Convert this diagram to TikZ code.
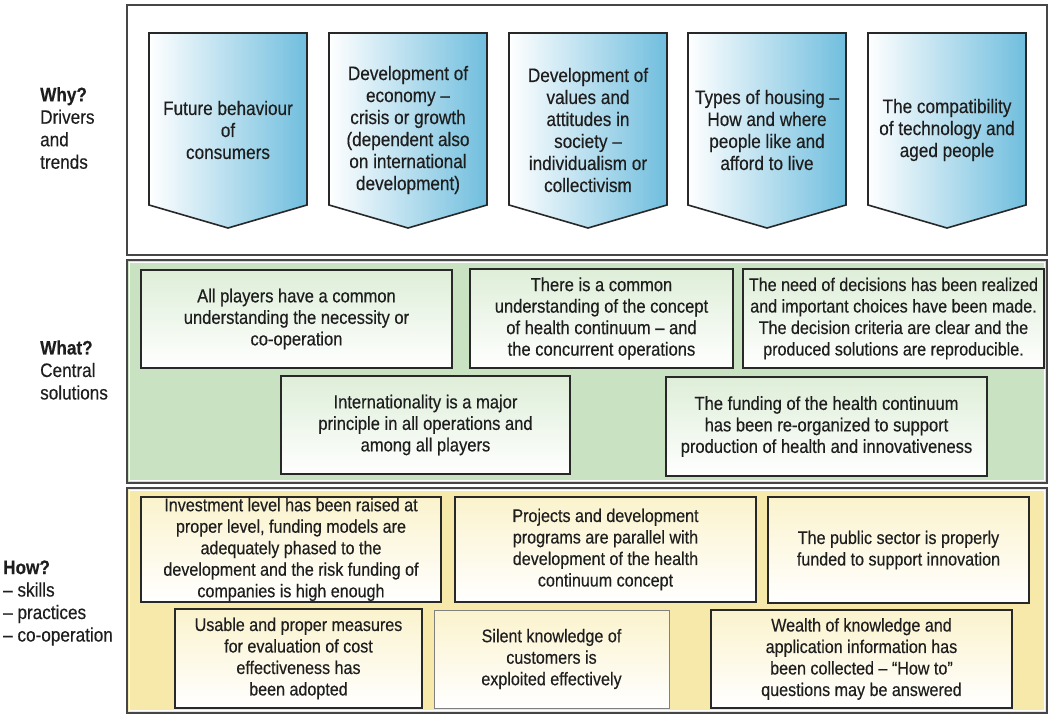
\documentclass[tikz,border=0pt]{standalone}
\usepackage{fontspec}
\setmainfont[FakeStretch=0.88,FakeBold=0.35]{Liberation Sans}
\definecolor{pgreen}{RGB}{201,226,193}
\definecolor{pyellow}{RGB}{247,233,170}
\definecolor{pblue}{RGB}{112,190,222}
\definecolor{edge}{RGB}{40,40,40}
\definecolor{pedge}{RGB}{70,70,70}
\definecolor{gshade}{RGB}{222,238,216}
\definecolor{yshade}{RGB}{251,243,205}
\definecolor{txt}{RGB}{30,30,30}
\newcommand\pentagon[3]{%
  \draw[pentstyle] (#1,33) -- ({#1+158},33) -- ({#1+158},205) -- ({#1+79},228) -- (#1,205) -- cycle;
  \node[ptext] (#2) at ({#1+79},130) {#3};}
\newcommand\bx[7]{%
  \node[#1, minimum width={(#5-#3)*1pt}, minimum height={(#6-#4)*1pt}] (#2) at ({(#3+#5)/2},{(#4+#6)/2}) {#7};}
\begin{document}
\begin{tikzpicture}[x=1pt,y=-1pt,
  every node/.style={text=txt},
  panel/.style={draw=pedge, line width=1.8pt},
  inner/.style={draw=white, line width=0.8pt},
  pentstyle/.style={draw=edge, line width=1.6pt, left color=white, right color=pblue},
  ptext/.style={align=center, inner sep=0pt, font=\fontsize{19.5}{22}\selectfont},
  gbox/.style={draw=edge, line width=1.6pt, top color=gshade, bottom color=white, inner sep=0pt, align=center, font=\fontsize{18.8}{21.5}\selectfont},
  ybox/.style={draw=edge, line width=1.6pt, top color=yshade, bottom color=white, inner sep=0pt, align=center, font=\fontsize{18.3}{21.5}\selectfont},
  side/.style={anchor=west, align=left, inner sep=0pt, font=\fontsize{19.5}{22.5}\selectfont}]
\useasboundingbox (0,0) rectangle (1052,715);
\fill[white] (0,0) rectangle (1052,715);
% panels
\draw[panel, fill=white] (127,5) rectangle (1047,255);
\draw[panel, fill=pgreen] (127,260) rectangle (1047,483);
\draw[inner] (129.5,262.5) rectangle (1044.5,480.5);
\draw[panel, fill=pyellow] (127,488) rectangle (1047,713);
\draw[inner] (129.5,490.5) rectangle (1044.5,710.5);
% side labels
\node[side] (why) at (40,128) {\textbf{Why?}\\Drivers\\and\\trends};
\node[side] (what) at (40,370) {\textbf{What?}\\Central\\solutions};
\node[side] (how) at (3,603) {\textbf{How?}\\– skills\\– practices\\– co-operation};
% pentagons
\pentagon{149}{p1}{Future behaviour\\of\\consumers}
\pentagon{329}{p2}{Development of\\economy –\\crisis or growth\\(dependent also\\on international\\development)}
\pentagon{509}{p3}{Development of\\values and\\attitudes in\\society –\\individualism or\\collectivism}
\pentagon{688}{p4}{Types of housing –\\How and where\\people like and\\afford to live}
\pentagon{868}{p5}{The compatibility\\of technology and\\aged people}
% green boxes
\bx{gbox}{g1}{141}{270}{452}{368}{All players have a common\\understanding the necessity or\\co-operation}
\bx{gbox}{g2}{470}{269}{733}{368}{There is a common\\understanding of the concept\\of health continuum – and\\the concurrent operations}
\bx{gbox, font=\fontsize{18.3}{21.5}\selectfont}{g3}{743}{269}{1044}{368}{The need of decisions has been realized\\and important choices have been made.\\The decision criteria are clear and the\\produced solutions are reproducible.}
\bx{gbox}{g4}{281}{376}{570}{474}{Internationality is a major\\principle in all operations and\\among all players}
\bx{gbox}{g5}{666}{377}{987}{476}{The funding of the health continuum\\has been re-organized to support\\production of health and innovativeness}
% yellow boxes
\bx{ybox}{y1}{141}{497}{441}{602}{Investment level has been raised at\\proper level, funding models are\\adequately phased to the\\development and the risk funding of\\companies is high enough}
\bx{ybox}{y2}{455}{497}{756}{602}{Projects and development\\programs are parallel with\\development of the health\\continuum concept}
\bx{ybox}{y3}{768}{497}{1029}{603}{The public sector is properly\\funded to support innovation}
\bx{ybox}{y4}{175}{609}{422}{708}{Usable and proper measures\\for evaluation of cost\\effectiveness has\\been adopted}
\bx{ybox, draw=gray, line width=1pt}{y5}{434}{610}{669}{708}{Silent knowledge of\\customers is\\exploited effectively}
\bx{ybox}{y6}{711}{610}{1012}{708}{Wealth of knowledge and\\application information has\\been collected – “How to”\\questions may be answered}
\end{tikzpicture}
\end{document}
